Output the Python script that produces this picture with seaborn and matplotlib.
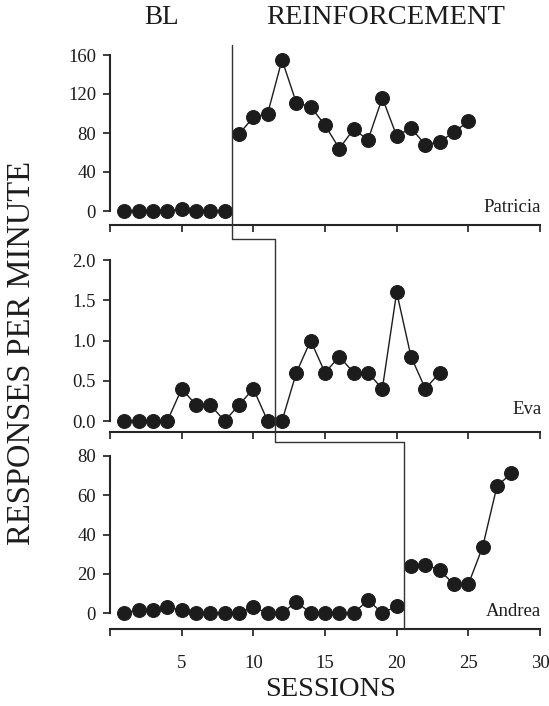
import matplotlib
matplotlib.use("Agg")
import matplotlib.pyplot as plt
from matplotlib.lines import Line2D
import seaborn as sns
import pandas as pd

# Données
patricia_bl = [0, 0, 0, 0, 2, 0, 0, 0]
patricia_rf = [79, 96, 100, 155, 111, 107, 88, 64, 84, 73, 116, 77, 85, 68, 71, 81, 92]
eva_bl = [0, 0, 0, 0, 0.4, 0.2, 0.2, 0, 0.2, 0.4, 0]
eva_rf = [0, 0.6, 1.0, 0.6, 0.8, 0.6, 0.6, 0.4, 1.6, 0.8, 0.4, 0.6]
andrea_bl = [0, 1.7, 1.4, 3, 1.4, 0, 0, 0, 0, 3, 0, 0, 5.6, 0, 0, 0, 0, 6.5, 0, 3.4]
andrea_rf = [23.8, 24.7, 21.8, 14.6, 14.6, 33.7, 64.7, 71.1]

names = ["Patricia", "Eva", "Andrea"]
y_ticks = [[0, 40, 80, 120, 160], [0.0, 0.5, 1.0, 1.5, 2.0], [0, 20, 40, 60, 80]]
x_ticks = [0, 5, 10, 15, 20, 25, 30]
phase_changes = [8.5, 11.5, 20.5]


def make_df(bl, rf):
    n = len(bl)
    return pd.DataFrame({
        "session": list(range(1, n + 1)) + list(range(n + 1, n + len(rf) + 1)),
        "rate": bl + rf,
        "phase": ["BL"] * n + ["RF"] * len(rf),
    })


dfs = [make_df(patricia_bl, patricia_rf), make_df(eva_bl, eva_rf), make_df(andrea_bl, andrea_rf)]

sns.set_style("ticks")
plt.rcParams["font.family"] = ["Liberation Serif", "DejaVu Serif"]
plt.rcParams["axes.linewidth"] = 1.5

W, H = 549, 706
fig = plt.figure(figsize=(W / 100, H / 100), dpi=100)

# positions en pixels: (haut de l'axe y, niveau zéro, ligne de l'axe x)
rows = [(55, 211, 225), (260, 421, 432), (456, 613, 629)]
left_px, right_px = 110, 540
col = "#1c1c1c"

axes = []
for i, (df, (top, zero, bot)) in enumerate(zip(dfs, rows)):
    ax = fig.add_axes([left_px / W, 1 - bot / H, (right_px - left_px) / W, (bot - top) / H])
    sns.lineplot(data=df, x="session", y="rate", units="phase", estimator=None,
                 marker="o", markersize=10, color=col, linewidth=1.0,
                 markeredgecolor=col, ax=ax, clip_on=False)
    ymax = y_ticks[i][-1]
    scale = ymax / (zero - top)
    ax.set_ylim(-(bot - zero) * scale, ymax)
    ax.set_xlim(0, 30)
    ax.set_yticks(y_ticks[i])
    if i == 1:
        ax.set_yticklabels([f"{v:.1f}" for v in y_ticks[i]])
    else:
        ax.set_yticklabels([str(v) for v in y_ticks[i]])
    ax.set_xticks(x_ticks)
    if i == 2:
        ax.set_xticklabels([""] + [str(v) for v in x_ticks[1:]])
    else:
        ax.set_xticklabels([])
    ax.spines["left"].set_bounds(0, ymax)
    sns.despine(ax=ax)
    ax.tick_params(axis="both", direction="out", length=5, width=1.2,
                   labelsize=13.5, colors=col, pad=5)
    ax.tick_params(axis="x", pad=14)
    ax.set_xlabel("")
    ax.set_ylabel("")
    ax.patch.set_alpha(0)
    off = [4, 0.14, 0.8][i]
    ax.text(30.1, off, names[i], ha="right", va="center", fontsize=13.5, color=col)
    axes.append(ax)

# ligne de changement de phase (en escalier)
def fig_xy(ax, x, ypx):
    xd = ax.transData.transform((x, 0))[0]
    return xd / fig.dpi / fig.get_figwidth(), 1 - ypx / H

pts = [
    fig_xy(axes[0], phase_changes[0], 45),
    fig_xy(axes[0], phase_changes[0], 239),
    fig_xy(axes[1], phase_changes[1], 239),
    fig_xy(axes[1], phase_changes[1], 442),
    fig_xy(axes[2], phase_changes[2], 442),
    fig_xy(axes[2], phase_changes[2], 629),
]
fig.add_artist(Line2D([p[0] for p in pts], [p[1] for p in pts],
                      transform=fig.transFigure, color="#333333", linewidth=1.0))

fig.text(162 / W, 1 - 17 / H, "BL", ha="center", va="center", fontsize=19.5, color=col)
fig.text(386 / W, 1 - 17 / H, "REINFORCEMENT", ha="center", va="center", fontsize=20.5, color=col)
fig.text(331 / W, 1 - 690 / H, "SESSIONS", ha="center", va="center", fontsize=20.5, color=col)
fig.text(22 / W, 1 - 353 / H, "RESPONSES PER MINUTE", ha="center", va="center",
         rotation=90, fontsize=23.5, color=col)

fig.savefig("out.png", dpi=100)
